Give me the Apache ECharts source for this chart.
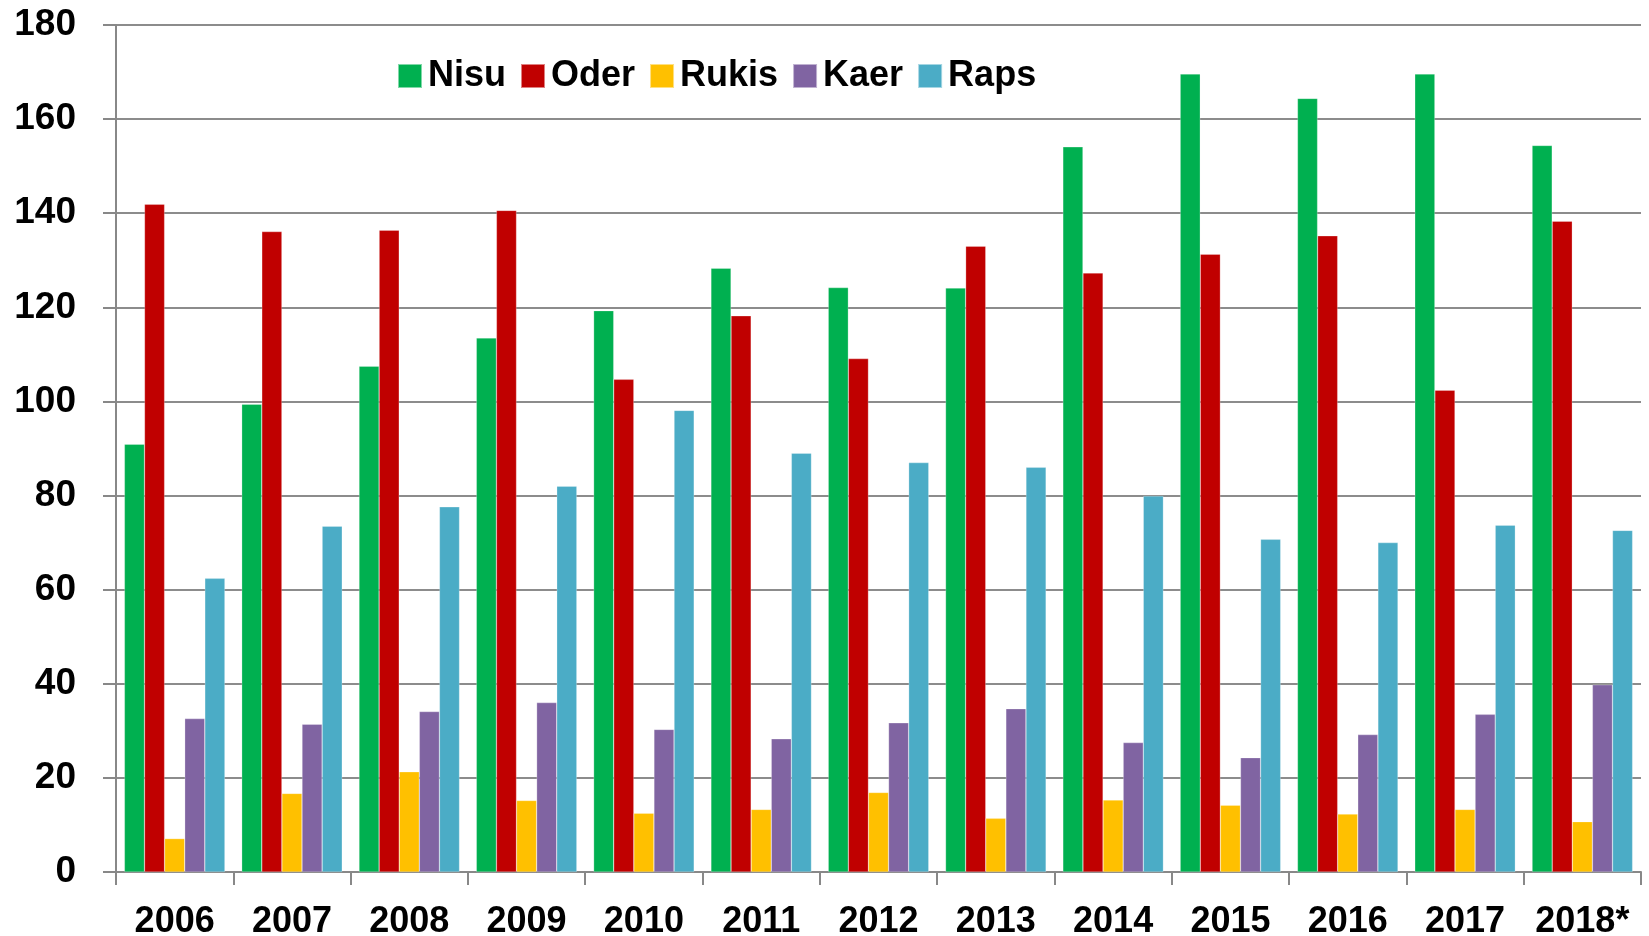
<!DOCTYPE html>
<html>
<head>
<meta charset="utf-8">
<script src="https://cdn.jsdelivr.net/npm/echarts@6/dist/echarts.min.js"></script>
<style>
  html, body { margin: 0; padding: 0; background: #fff; }
  #main { width: 1649px; height: 936px; }
</style>
</head>
<body>
<div id="main"></div>
<script>
var years = ['2006', '2007', '2008', '2009', '2010', '2011', '2012', '2013', '2014', '2015', '2016', '2017', '2018*'];
var nisu  = [90.9, 99.4, 107.5, 113.5, 119.3, 128.3, 124.2, 124.1, 154.1, 169.6, 164.4, 169.6, 154.4];
var oder  = [141.9, 136.1, 136.4, 140.6, 104.7, 118.2, 109.1, 133.0, 127.3, 131.3, 135.2, 102.4, 138.3];
var rukis = [7.1, 16.7, 21.3, 15.2, 12.5, 13.3, 16.9, 11.4, 15.3, 14.2, 12.3, 13.3, 10.7];
var kaer  = [32.6, 31.4, 34.1, 36.0, 30.3, 28.3, 31.7, 34.7, 27.5, 24.3, 29.2, 33.5, 39.8];
var raps  = [62.4, 73.5, 77.6, 82.0, 98.1, 89.0, 87.0, 86.0, 79.9, 70.7, 70.0, 73.7, 72.6];

var names = ['Nisu', 'Oder', 'Rukis', 'Kaer', 'Raps'];
var colors = ['#00B050', '#C00000', '#FFC000', '#8064A2', '#4BACC6'];
var values = [nisu, oder, rukis, kaer, raps];

window.onload = function () {
  var chart = echarts.init(document.getElementById('main'));
  var font = '"Liberation Sans", Arial, sans-serif';

  // one bar series per crop
  var series = names.map(function (n, i) {
    return {
      name: n,
      type: 'bar',
      data: values[i],
      barGap: '0%',
      barCategoryGap: '14.3%',
      itemStyle: { color: colors[i], borderColor: 'rgba(255,255,255,0.5)', borderWidth: 0.5 }
    };
  });

  var option = {
    animation: false,
    color: colors,
    legend: {
      data: names,
      left: 392,
      top: 53,
      icon: 'rect',
      itemWidth: 24,
      itemHeight: 24,
      itemGap: 14,
      textStyle: { fontFamily: font, fontWeight: 'bold', fontSize: 36, color: '#000', padding: [0, 0, 0, 1] }
    },
    grid: { left: 116, right: 8, top: 25, bottom: 64, containLabel: false, outerBoundsMode: 'none' },
    xAxis: {
      type: 'category',
      data: years,
      axisLine: { lineStyle: { color: '#888', width: 2 } },
      axisTick: { show: true, length: 13, lineStyle: { color: '#888', width: 2 } },
      axisLabel: { interval: 0, margin: 32, fontFamily: font, fontWeight: 'bold', fontSize: 36, color: '#000' }
    },
    yAxis: {
      type: 'value',
      min: 0,
      max: 180,
      interval: 20,
      axisLine: { show: true, lineStyle: { color: '#888', width: 2 } },
      axisTick: { show: true, length: 13, lineStyle: { color: '#888', width: 2 } },
      splitLine: { lineStyle: { color: '#8c8c8c', width: 2 } },
      axisLabel: { margin: 40, fontFamily: font, fontWeight: 'bold', fontSize: 37, color: '#000' }
    },
    series: series
  };
  chart.setOption(option);
};
</script>
</body>
</html>
